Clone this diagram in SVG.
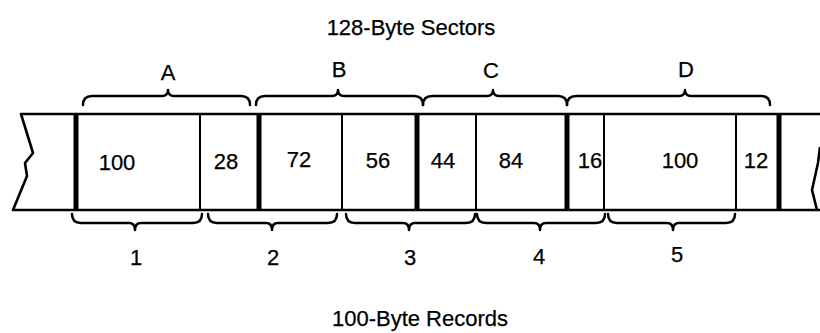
<svg xmlns="http://www.w3.org/2000/svg" width="820" height="333" viewBox="0 0 820 333">
<style>
text{font-family:"Liberation Sans",Arial,sans-serif;font-size:22px;fill:#000;text-anchor:middle;stroke:#000;stroke-width:0.25}
.edge{fill:none;stroke:#000;stroke-width:2.6;stroke-linejoin:round}
.thick{stroke:#000;stroke-width:5}
.thin{stroke:#000;stroke-width:2}
.brace{fill:none;stroke:#000;stroke-width:2.5;stroke-linecap:round;stroke-linejoin:round}
</style>
<rect width="820" height="333" fill="#fff"/>
<text id="title-sectors" x="411" y="35">128-Byte Sectors</text>
<text id="title-records" x="420" y="326">100-Byte Records</text>

<g id="strip">
<path class="edge" d="M820,114 L21,114 L33,153 L25,163 L27,176 L13,210 L820,210"/>
<path class="edge" d="M820,147 L818,163 L812,190 L817,210"/>
<line class="thick" x1="76" y1="114" x2="76" y2="210"/>
<line class="thick" x1="259" y1="114" x2="259" y2="210"/>
<line class="thick" x1="417" y1="114" x2="417" y2="210"/>
<line class="thick" x1="567" y1="114" x2="567" y2="210"/>
<line class="thick" x1="779" y1="114" x2="779" y2="210"/>
<line class="thin" x1="200" y1="114" x2="200" y2="210"/>
<line class="thin" x1="342" y1="114" x2="342" y2="210"/>
<line class="thin" x1="476" y1="114" x2="476" y2="210"/>
<line class="thin" x1="604" y1="114" x2="604" y2="210"/>
<line class="thin" x1="736" y1="114" x2="736" y2="210"/>
<text x="117" y="170">100</text>
<text x="226" y="169">28</text>
<text x="299" y="167">72</text>
<text x="378" y="168">56</text>
<text x="443" y="168">44</text>
<text x="511" y="168">84</text>
<text x="590" y="168">16</text>
<text x="680" y="168">100</text>
<text x="756" y="168">12</text>
</g>

<g id="sector-braces">
<g id="sector-A"><path class="brace" d="M83,105 Q83,96 92,96 L162,96 Q168,96 168,90 Q168,96 174,96 L241,96 Q250,96 250,105"/><text x="168" y="80">A</text></g>
<g id="sector-B"><path class="brace" d="M256,105 Q256,96 265,96 L332,96 Q338,96 338,90 Q338,96 344,96 L414,96 Q423,96 423,105"/><text x="339" y="77">B</text></g>
<g id="sector-C"><path class="brace" d="M423,105 Q423,96 432,96 L487,96 Q493,96 493,90 Q493,96 499,96 L558,96 Q567,96 567,105"/><text x="491" y="78">C</text></g>
<g id="sector-D"><path class="brace" d="M567,105 Q567,96 576,96 L679,96 Q685,96 685,90 Q685,96 691,96 L761,96 Q770,96 770,105"/><text x="686" y="77">D</text></g>
</g>

<g id="record-braces">
<g id="record-1"><path class="brace" d="M72,214 Q72,223 81,223 L129,223 Q135,223 135,230 Q135,223 141,223 L193,223 Q202,223 202,214"/><text x="136" y="265">1</text></g>
<g id="record-2"><path class="brace" d="M208,214 Q208,223 217,223 L266,223 Q272,223 272,230 Q272,223 278,223 L328,223 Q337,223 337,214"/><text x="273" y="265">2</text></g>
<g id="record-3"><path class="brace" d="M346,214 Q346,223 355,223 L403,223 Q409,223 409,230 Q409,223 415,223 L466,223 Q475,223 475,214"/><text x="410" y="265">3</text></g>
<g id="record-4"><path class="brace" d="M477,214 Q477,223 486,223 L534,223 Q540,223 540,230 Q540,223 546,223 L596,223 Q605,223 605,214"/><text x="539" y="264">4</text></g>
<g id="record-5"><path class="brace" d="M608,214 Q608,223 617,223 L667,223 Q673,223 673,230 Q673,223 679,223 L726,223 Q735,223 735,214"/><text x="677" y="262">5</text></g>
</g>
</svg>
